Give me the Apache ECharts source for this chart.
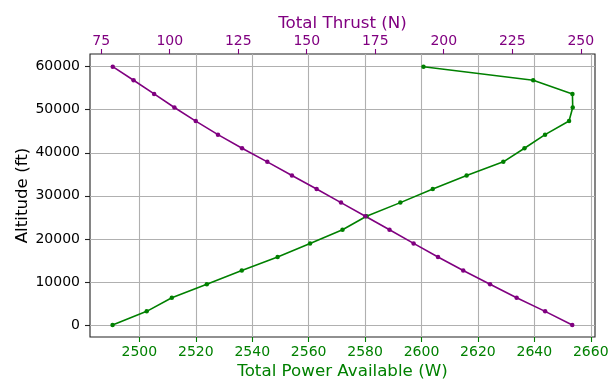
<!DOCTYPE html>
<html>
<head>
<meta charset="utf-8">
<script src="https://cdn.jsdelivr.net/npm/echarts@6/dist/echarts.min.js"></script>
<style>
  html, body { margin: 0; padding: 0; background: #fff; }
  #chart { width: 614px; height: 379px; }
</style>
</head>
<body>
<div id="chart"></div>
<script>
// Altitude stations (ft)
const altitudes = [0, 3158, 6316, 9474, 12632, 15789, 18947, 22105, 25263, 28421,
                   31579, 34737, 37895, 41053, 44211, 47368, 50526, 53684, 56842, 60000];
// Total power available at each altitude (W)
const powerAvailable = [2490.5, 2502.6, 2511.5, 2523.9, 2536.3, 2549.0, 2560.5, 2572.0, 2580.5, 2592.5,
                        2604.0, 2616.0, 2629.0, 2636.5, 2643.8, 2652.3, 2653.6, 2653.5, 2639.6, 2600.7];
// Total thrust at each altitude (N)
const totalThrust = [246.9, 237.0, 226.6, 216.9, 207.1, 197.9, 189.0, 180.2, 171.4, 162.5,
                     153.6, 144.6, 135.6, 126.4, 117.6, 109.5, 101.7, 94.3, 86.8, 79.2];

// Tick labels
const powerTicks = [2500, 2520, 2540, 2560, 2580, 2600, 2620, 2640, 2660];
const thrustTicks = [75, 100, 125, 150, 175, 200, 225, 250];
const altitudeTicks = [0, 10000, 20000, 30000, 40000, 50000, 60000];

const GREEN = '#008000';
const PURPLE = '#800080';
const FONT = 'DejaVu Sans';
const plain = v => String(v);

const powerSeries = altitudes.map((a, i) => [powerAvailable[i], a]);
const thrustSeries = altitudes.map((a, i) => [totalThrust[i], a]);

const chart = echarts.init(document.getElementById('chart'), null, { renderer: 'canvas' });

chart.setOption({
  animation: false,
  backgroundColor: '#ffffff',
  textStyle: { fontFamily: FONT },
  grid: {
    left: 90, right: 19, top: 54, bottom: 42,
    show: true, borderColor: '#222', borderWidth: 1.1,
    containLabel: false, outerBoundsMode: 'none'
  },
  xAxis: [
    {
      type: 'value', position: 'bottom',
      min: 2482.5, max: 2661.5,
      name: 'Total Power Available (W)', nameLocation: 'middle', nameGap: 26, nameMoveOverlap: false,
      nameTextStyle: { color: GREEN, fontSize: 16.7, fontFamily: FONT },
      axisLine: { show: false, onZero: false },
      axisTick: { show: true, length: 5, customValues: powerTicks, lineStyle: { color: GREEN, width: 1.1 } },
      axisLabel: { customValues: powerTicks, formatter: plain, color: GREEN, fontSize: 14, fontFamily: FONT, margin: 8 },
      splitLine: { show: true, lineStyle: { color: '#b0b0b0', width: 1.1 } }
    },
    {
      type: 'value', position: 'top',
      min: 70.9, max: 255.2,
      name: 'Total Thrust (N)', nameLocation: 'middle', nameGap: 22, nameMoveOverlap: false,
      nameTextStyle: { color: PURPLE, fontSize: 16.7, fontFamily: FONT },
      axisLine: { show: false, onZero: false },
      axisTick: { show: true, length: 5, customValues: thrustTicks, lineStyle: { color: PURPLE, width: 1.1 } },
      axisLabel: { customValues: thrustTicks, formatter: plain, color: PURPLE, fontSize: 14, fontFamily: FONT, margin: 6 },
      splitLine: { show: false }
    }
  ],
  yAxis: {
    type: 'value',
    min: -2800, max: 62950,
    name: 'Altitude (ft)', nameLocation: 'middle', nameGap: 59, nameRotate: 90, nameMoveOverlap: false,
    nameTextStyle: { color: '#000', fontSize: 16.7, fontFamily: FONT },
    axisLine: { show: false, onZero: false },
    axisTick: { show: true, length: 5, customValues: altitudeTicks, lineStyle: { color: '#222', width: 1.1 } },
    axisLabel: { customValues: altitudeTicks, formatter: plain, color: '#000', fontSize: 14, fontFamily: FONT, margin: 10 },
    splitLine: { show: true, lineStyle: { color: '#b0b0b0', width: 1.1 } }
  },
  series: [
    {
      name: 'Total Power Available', type: 'line', xAxisIndex: 0, yAxisIndex: 0,
      data: powerSeries,
      symbol: 'circle', symbolSize: 4.5, showSymbol: true,
      lineStyle: { color: GREEN, width: 1.6 },
      itemStyle: { color: GREEN },
      z: 3
    },
    {
      name: 'Total Thrust', type: 'line', xAxisIndex: 1, yAxisIndex: 0,
      data: thrustSeries,
      symbol: 'circle', symbolSize: 4.5, showSymbol: true,
      lineStyle: { color: PURPLE, width: 1.6 },
      itemStyle: { color: PURPLE },
      z: 3
    }
  ]
});
</script>
</body>
</html>
